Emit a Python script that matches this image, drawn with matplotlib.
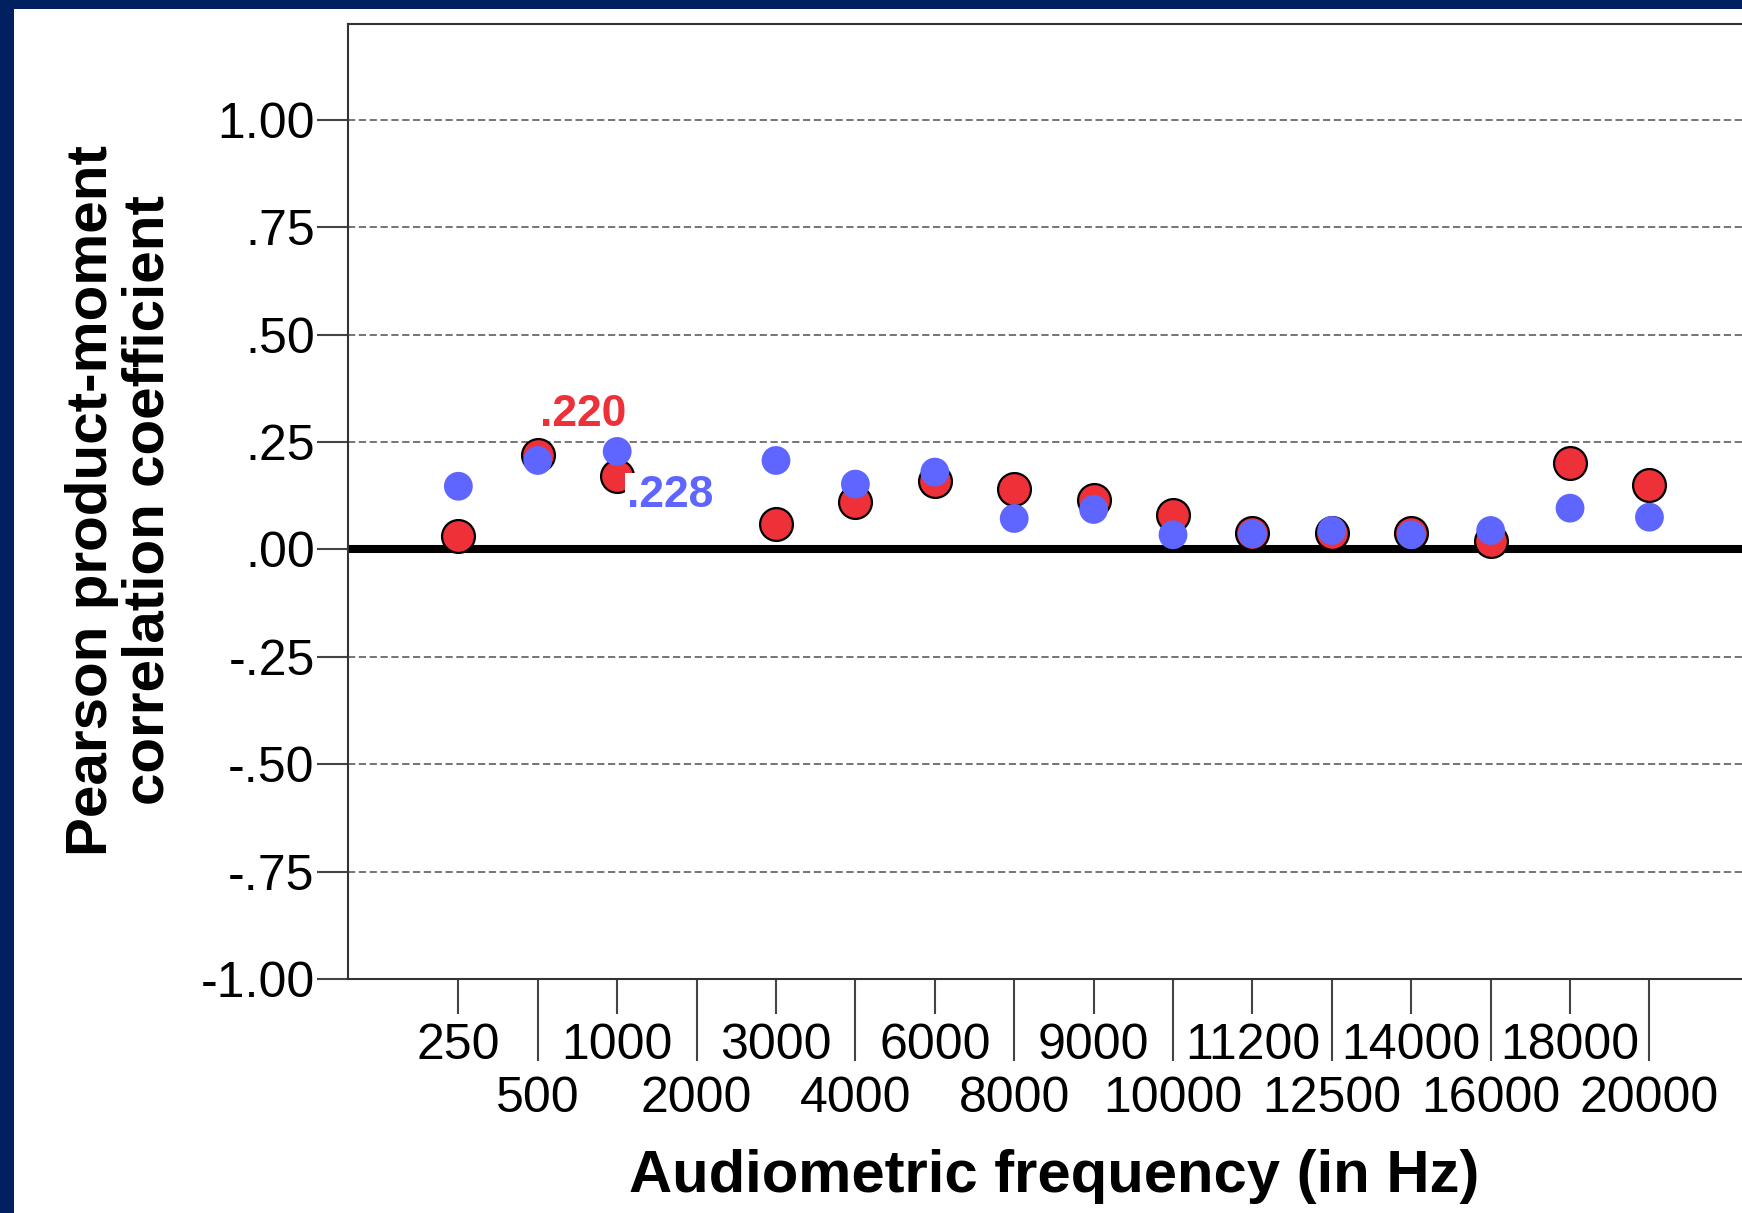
import numpy as np
import matplotlib
matplotlib.use("Agg")
import matplotlib.pyplot as plt
from matplotlib.patches import Rectangle

plt.rcParams['font.family'] = ['Liberation Sans', 'DejaVu Sans']

# frequencies on the x axis (categorical)
freqs = ["250", "500", "1000", "2000", "3000", "4000", "6000", "8000", "9000",
         "10000", "11200", "12500", "14000", "16000", "18000", "20000"]

# correlation coefficients, None = no value (2000 Hz)
red_vals = [0.031, 0.220, 0.170, None, 0.059, 0.110, 0.160, 0.140, 0.114,
            0.080, 0.039, 0.039, 0.039, 0.020, 0.200, 0.150]
blue_vals = [0.147, 0.207, 0.228, None, 0.207, 0.152, 0.180, 0.072, 0.093,
             0.034, 0.036, 0.044, 0.034, 0.044, 0.096, 0.075]

yticks = [1.0, 0.75, 0.5, 0.25, 0.0, -0.25, -0.5, -0.75, -1.0]
ytick_labels = ["1.00", ".75", ".50", ".25", ".00", "-.25", "-.50", "-.75", "-1.00"]

red = '#EE3039'
blue = '#5F66FF'
navy = '#00205F'

W, H = 1742, 1213
fig = plt.figure(figsize=(W / 100, H / 100), dpi=100)
fig.patch.set_facecolor(navy)
fig.patches.append(Rectangle((14 / W, 0), 1, 1 - 9 / H, transform=fig.transFigure,
                             facecolor='white', edgecolor='none', zorder=-5))

ax = fig.add_axes([348 / W, 1 - 979 / H, (1790 - 348) / W, (979 - 24) / H])
ax.set_facecolor('white')

x = np.arange(len(freqs))
rx = [i for i, v in zip(x, red_vals) if v is not None]
ry = [v for v in red_vals if v is not None]
bx = [i for i, v in zip(x, blue_vals) if v is not None]
by = [v for v in blue_vals if v is not None]

for y in yticks:
    if y == 0:
        continue
    ax.axhline(y, color='#6a6a6a', lw=1.3, ls=(0, (4, 2)), zorder=1)
ax.axhline(0, color='black', lw=5.8, zorder=2)

ax.scatter(rx, ry, s=560, color=red, edgecolors='black', linewidths=1.6, zorder=3)
ax.scatter(bx, by, s=430, color=blue, edgecolors='none', zorder=4)

ax.annotate(".220", xy=(1, red_vals[1]), xytext=(33, 29), textcoords='offset points',
            ha='center', va='center', fontsize=32, fontweight='bold', color=red, zorder=5)
ax.annotate(".228", xy=(2, blue_vals[2]), xytext=(38, -31.5), textcoords='offset points',
            ha='center', va='center', fontsize=32, fontweight='bold', color=blue, zorder=5,
            bbox=dict(facecolor='white', edgecolor='none', pad=1))

ax.set_xlim(-1.39, 16.77)
ax.set_ylim(-1.0, 1.223)

ax.set_yticks(yticks)
ax.set_yticklabels(ytick_labels, fontsize=36)
for lab in ax.get_yticklabels():
    lab.set_va('center_baseline')
ax.tick_params(axis='y', length=22, width=1.5, color='#444444', pad=2)

ax.set_xticks(x[0::2])
ax.set_xticklabels(freqs[0::2], fontsize=36)
ax.set_xticks(x[1::2], minor=True)
ax.set_xticklabels(freqs[1::2], minor=True, fontsize=36)
ax.tick_params(axis='x', which='major', length=25, width=1.5, color='#444444', pad=7)
ax.tick_params(axis='x', which='minor', length=59, width=1.5, color='#444444', pad=10.5)

for side in ['left', 'top', 'bottom']:
    ax.spines[side].set_color('#333333')
    ax.spines[side].set_linewidth(1.5)
ax.spines['right'].set_visible(False)

fig.text(1054 / W, 1 - 1176 / H, "Audiometric frequency (in Hz)", fontsize=43,
         fontweight='bold', ha='center', va='center')
fig.text(120 / W, 1 - 500 / H, "Pearson product-moment\ncorrelation coefficient",
         fontsize=42, fontweight='bold', ha='center', va='center', rotation=90,
         linespacing=1.05)

fig.savefig("out.png", dpi=100, facecolor=fig.get_facecolor())
